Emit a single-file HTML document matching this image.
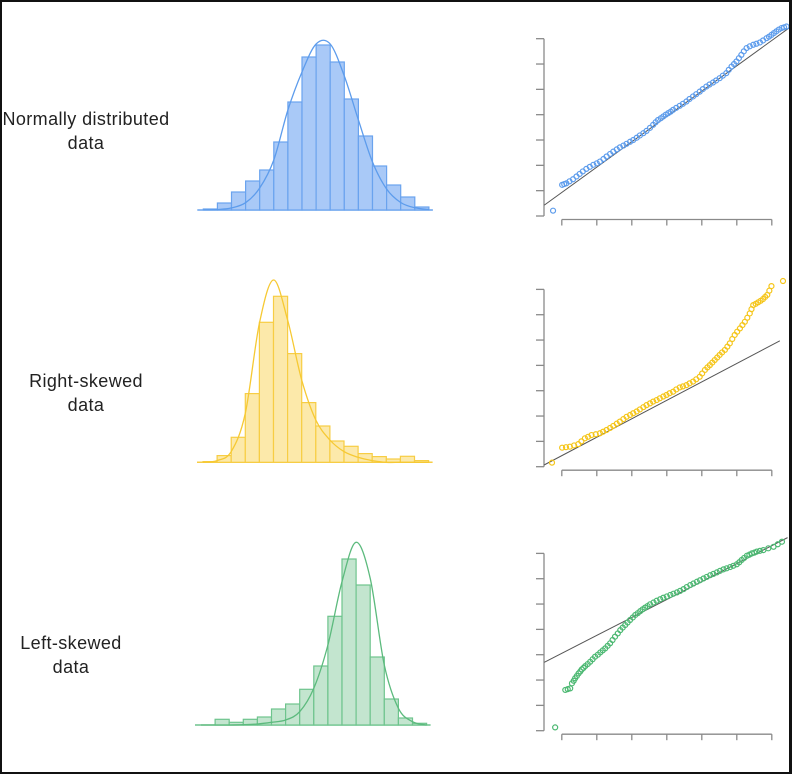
<!DOCTYPE html>
<html><head><meta charset="utf-8">
<style>
html,body{margin:0;padding:0;background:#fff;}
#frame{position:relative;width:792px;height:774px;overflow:hidden;}
#border{position:absolute;left:0;top:0;width:792px;height:774px;box-sizing:border-box;border:2px solid #111;border-right-width:3px;pointer-events:none;}
.lbl{position:absolute;font-family:"Liberation Sans",sans-serif;font-size:18px;letter-spacing:0.4px;color:#222;text-align:center;line-height:24px;white-space:nowrap;}
svg{position:absolute;left:0;top:0;}
</style></head>
<body>
<div id="frame">
<div class="lbl" style="left:-6px;width:184px;top:107px;">Normally distributed<br>data</div>
<div class="lbl" style="left:0;width:172px;top:369px;">Right-skewed<br>data</div>
<div class="lbl" style="left:0;width:142px;top:631px;">Left-skewed<br>data</div>
<svg id="svg" width="792" height="774"></svg>
<div id="border"></div>
</div>
<script>
// ---- histogram data (bin counts) ----
const normalCounts = [1,7,18,29,40,68,108,153,165,148,111,74,44,25,13,3];
const rightCounts  = [0.7,6.7,25,68.7,140,166,108.7,59.7,36.3,21.3,16,8.7,5.7,3.3,6,1.7];
const leftCounts   = [0,5.7,2.7,5.7,8,16,21,35.7,59,108.7,166,140,68,26,7,1.7];
// fitted density curves, sampled at bin edges
const normalCurve = [0.1,0.5,2.1,7.3,22,50,100,138,166,166,134,90,48,21,7.5,2.2,0.5];
const rightCurve  = [0,1.7,10.7,49,139,182.3,142.3,82.3,42.3,22.3,10.7,5,1.7,0,0,0,0];
const leftCurve   = [0,0,0,0.3,1,2.7,5,13.3,36.7,80,143.3,182.7,146.7,60,16.7,3.3,0];

// ---- QQ plot data: theoretical quantile (x) and sample quantile (y) ----
const qqNormX = [-3.25,-2.99,-2.93,-2.87,-2.78,-2.68,-2.58,-2.49,-2.40,-2.30,-2.20,-2.10,-2.00,-1.91,-1.81,-1.72,-1.62,-1.53,-1.43,-1.34,-1.24,-1.15,-1.05,-0.96,-0.86,-0.77,-0.67,-0.58,-0.48,-0.39,-0.32,-0.25,-0.17,-0.10,-0.03,0.04,0.11,0.18,0.27,0.37,0.46,0.56,0.65,0.75,0.84,0.94,1.03,1.13,1.22,1.32,1.41,1.51,1.60,1.70,1.77,1.85,1.92,1.99,2.06,2.13,2.20,2.28,2.37,2.47,2.56,2.66,2.75,2.85,2.92,2.99,3.06,3.13,3.20,3.28,3.35,3.42];
const qqNormY = [0.21,1.23,1.26,1.29,1.37,1.45,1.56,1.66,1.76,1.86,1.94,2.02,2.08,2.15,2.25,2.35,2.45,2.54,2.63,2.71,2.78,2.85,2.93,3.00,3.09,3.18,3.27,3.36,3.48,3.60,3.70,3.79,3.86,3.93,4.00,4.06,4.12,4.19,4.27,4.35,4.43,4.52,4.62,4.72,4.81,4.91,5.01,5.11,5.19,5.27,5.35,5.44,5.54,5.64,5.77,5.90,6.00,6.10,6.23,6.36,6.50,6.63,6.70,6.76,6.80,6.85,6.93,7.02,7.08,7.15,7.22,7.29,7.36,7.42,7.45,7.48];
const qqRightX = [-3.28,-2.99,-2.88,-2.77,-2.65,-2.53,-2.44,-2.34,-2.25,-2.15,-2.03,-1.91,-1.82,-1.72,-1.62,-1.53,-1.43,-1.34,-1.24,-1.15,-1.05,-0.96,-0.86,-0.77,-0.67,-0.58,-0.48,-0.39,-0.29,-0.20,-0.10,-0.01,0.08,0.18,0.27,0.37,0.46,0.56,0.65,0.75,0.84,0.94,1.01,1.09,1.16,1.23,1.30,1.37,1.44,1.51,1.58,1.66,1.73,1.80,1.87,1.94,2.01,2.09,2.16,2.23,2.30,2.37,2.42,2.47,2.54,2.61,2.68,2.75,2.81,2.87,2.93,2.99,3.32];
const qqRightY = [0.16,0.75,0.77,0.79,0.84,0.89,1.00,1.12,1.18,1.25,1.28,1.32,1.38,1.45,1.53,1.61,1.70,1.78,1.88,1.97,2.04,2.11,2.18,2.26,2.35,2.43,2.50,2.57,2.63,2.70,2.77,2.83,2.90,2.96,3.05,3.13,3.17,3.22,3.29,3.36,3.45,3.55,3.68,3.82,3.92,4.01,4.11,4.21,4.31,4.41,4.51,4.61,4.74,4.87,5.04,5.20,5.33,5.46,5.59,5.72,5.88,6.05,6.22,6.38,6.43,6.49,6.55,6.62,6.70,6.78,6.95,7.13,7.33];
const qqLeftX = [-3.19,-2.90,-2.83,-2.76,-2.71,-2.66,-2.62,-2.57,-2.52,-2.47,-2.43,-2.38,-2.33,-2.26,-2.19,-2.12,-2.05,-1.97,-1.90,-1.83,-1.76,-1.69,-1.62,-1.55,-1.48,-1.40,-1.33,-1.26,-1.19,-1.12,-1.05,-0.97,-0.90,-0.83,-0.76,-0.69,-0.62,-0.55,-0.48,-0.38,-0.29,-0.19,-0.10,0.00,0.10,0.19,0.29,0.38,0.48,0.57,0.67,0.76,0.86,0.95,1.05,1.14,1.24,1.33,1.43,1.52,1.62,1.71,1.81,1.90,2.00,2.07,2.14,2.21,2.29,2.36,2.43,2.50,2.57,2.66,2.76,2.90,3.05,3.17,3.29];
const qqLeftY = [0.13,1.61,1.64,1.67,1.87,1.97,2.07,2.16,2.26,2.34,2.42,2.48,2.55,2.63,2.72,2.82,2.92,3.00,3.09,3.17,3.25,3.35,3.45,3.58,3.71,3.84,3.97,4.07,4.17,4.27,4.37,4.47,4.57,4.64,4.72,4.79,4.86,4.92,4.99,5.06,5.13,5.19,5.25,5.30,5.36,5.41,5.46,5.52,5.59,5.67,5.75,5.81,5.88,5.94,6.01,6.07,6.14,6.19,6.25,6.31,6.37,6.41,6.46,6.51,6.57,6.65,6.74,6.82,6.91,6.95,7.00,7.03,7.07,7.10,7.13,7.20,7.26,7.36,7.46];
// reference lines [intercept, slope, xStart, xEnd]
const refNorm  = [3.93, 1.0, -3.5, 3.57];
const refRight = [2.62, 0.728, -3.5, 3.23];
const refLeft  = [5.18, 0.708, -3.5, 3.45];
const xTicks = [-3,-2,-1,0,1,2,3];
const yTicks = [0,1,2,3,4,5,6,7];

const NS='http://www.w3.org/2000/svg';
const svg=document.getElementById('svg');
function mk(tag,attrs,parent){const e=document.createElementNS(NS,tag);for(const k in attrs)e.setAttribute(k,attrs[k]);(parent||svg).appendChild(e);return e;}

function spline(pts){
  let d='M'+pts[0][0]+','+pts[0][1];
  for(let i=0;i<pts.length-1;i++){
    const p0=pts[i-1]||pts[i],p1=pts[i],p2=pts[i+1],p3=pts[i+2]||p2;
    const c1x=p1[0]+(p2[0]-p0[0])/6,c1y=p1[1]+(p2[1]-p0[1])/6;
    const c2x=p2[0]-(p3[0]-p1[0])/6,c2y=p2[1]-(p3[1]-p1[1])/6;
    d+=' C'+c1x+','+c1y+' '+c2x+','+c2y+' '+p2[0]+','+p2[1];
  }
  return d;
}

function histogram(name,counts,curve,x0,base,fill,stroke,curveCol){
  const g=mk('g',{});
  
  
  const w=14.1;
  const xs=k=>x0+k*w;
  const ys=v=>base-v;
  const bl=mk('line',{x1:xs(0)-6,x2:xs(counts.length)+4,y1:base,y2:base,stroke:stroke,'stroke-width':1.5},g);
  
  
  counts.forEach((c,k)=>{
    const r=mk('rect',{x:xs(k),y:ys(c),width:w,height:c,fill:fill,stroke:stroke,'stroke-width':1.2},g);
    
    
  });
  const pts=curve.map((v,k)=>[xs(k),ys(v)]);
  const p=mk('path',{d:spline(pts),fill:'none',stroke:curveCol,'stroke-width':1.3},g);
  
  
}

histogram('normal',normalCounts,normalCurve,203.3,210,'#a9c9f7','#6aa3ee','#5d9cec');
histogram('right-skewed',rightCounts,rightCurve,203,462.3,'#fce9aa','#f7cd44','#f6c933');
histogram('left-skewed',leftCounts,leftCurve,201,725,'#c3e5cf','#6ec48d','#5cba7d');

function qq(name,xv,yv,ref,yBase,col){
  const g=mk('g',{});
  
  
  const sx=v=>666.8+35*v;
  const sy=v=>yBase-25.33*v;
  const axC='#8a8a8a';
  const ya=mk('line',{x1:544,x2:544,y1:sy(7),y2:sy(0),stroke:axC,'stroke-width':1.3},g);
  
  
  yTicks.forEach(t=>{
    const l=mk('line',{x1:536,x2:544,y1:sy(t),y2:sy(t),stroke:axC,'stroke-width':1.3},g);
    
    
  });
  const xaY=yBase+3.5;
  const xa=mk('line',{x1:sx(-3),x2:sx(3),y1:xaY,y2:xaY,stroke:axC,'stroke-width':1.3},g);
  
  
  xTicks.forEach(t=>{
    const l=mk('line',{x1:sx(t),x2:sx(t),y1:xaY,y2:xaY+6,stroke:axC,'stroke-width':1.3},g);
    
    
  });
  const rl=mk('line',{x1:sx(ref[2]),y1:sy(ref[0]+ref[1]*ref[2]),x2:sx(ref[3]),y2:sy(ref[0]+ref[1]*ref[3]),stroke:'#555','stroke-width':1},g);
  
  
  xv.forEach((x,i)=>{
    const c=mk('circle',{cx:sx(x),cy:sy(yv[i]),r:2.5,fill:'none',stroke:col,'stroke-width':1.2},g);
    
    
  });
}
qq('normal',qqNormX,qqNormY,refNorm,216,'#5d9cec');
qq('right-skewed',qqRightX,qqRightY,refRight,466.7,'#f5c518');
qq('left-skewed',qqLeftX,qqLeftY,refLeft,730.7,'#4cb872');
</script>
</body></html>
